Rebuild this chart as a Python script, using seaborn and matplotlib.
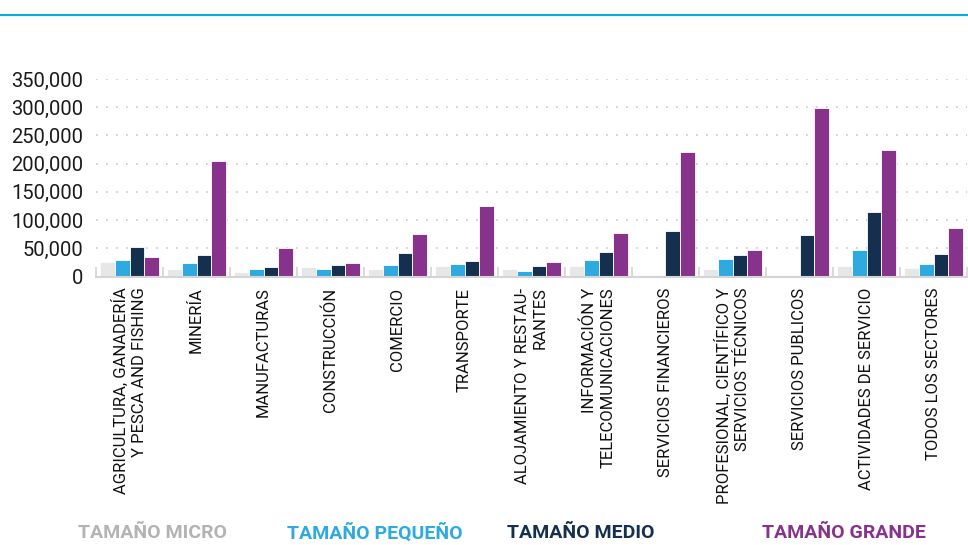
import numpy as np
import pandas as pd
import matplotlib
matplotlib.use("Agg")
import matplotlib.pyplot as plt
from matplotlib.lines import Line2D
from matplotlib.ticker import FixedLocator, FuncFormatter
import seaborn as sns

categories = [
    "AGRICULTURA, GANADERÍA\nY PESCA AND FISHING",
    "MINERÍA",
    "MANUFACTURAS",
    "CONSTRUCCIÓN",
    "COMERCIO",
    "TRANSPORTE",
    "ALOJAMIENTO Y RESTAU-\nRANTES",
    "INFORMACIÓN Y\nTELECOMUNICACIONES",
    "SERVICIOS FINANCIEROS",
    "PROFESIONAL, CIENTÍFICO Y\nSERVICIOS TÉCNICOS",
    "SERVICIOS PUBLICOS",
    "ACTIVIDADES DE SERVICIO",
    "TODOS LOS SECTORES",
]
series_names = ["TAMAÑO MICRO", "TAMAÑO PEQUEÑO", "TAMAÑO MEDIO", "TAMAÑO GRANDE"]
micro = [26300, 14000, 8100, 17000, 13400, 18200, 14000, 18200, 0, 13400, 0, 18200, 15700]
pequeno = [29300, 23500, 12900, 14000, 21000, 21700, 10400, 28800, 0, 31100, 0, 47500, 22300]
medio = [51800, 37600, 17000, 20500, 41100, 28100, 18700, 44000, 80000, 38200, 74000, 113600, 40000]
grande = [34600, 205500, 50000, 24000, 75800, 124200, 25800, 76500, 220700, 47000, 299200, 223700, 86400]
y_ticks = [0, 50000, 100000, 150000, 200000, 250000, 300000, 350000]
colors = ["#e6e7e8", "#2eaae1", "#15304f", "#87338b"]

rows = []
for name, vals in zip(series_names, [micro, pequeno, medio, grande]):
    for c, v in zip(categories, vals):
        rows.append({"sector": c, "size": name, "value": v})
df = pd.DataFrame(rows)

sns.set_theme(style="white")
fam = ["Roboto", "DejaVu Sans"]
plt.rcParams["font.family"] = fam

fig = plt.figure(figsize=(9.68, 5.45), dpi=100)
W, H = 968, 545
ax = fig.add_axes([96 / W, 1 - 276.5 / H, (967 - 96) / W, (276.5 - 79) / H])

sns.barplot(data=df, x="sector", y="value", hue="size", order=categories,
            hue_order=series_names, palette=colors, saturation=1, width=0.88,
            edgecolor="white", linewidth=0.6, errorbar=None, ax=ax, legend=False)

ax.set_xlim(-0.5, len(categories) - 0.5)
ax.set_ylim(0, 350000)
ax.yaxis.set_major_locator(FixedLocator(y_ticks))
ax.yaxis.set_major_formatter(FuncFormatter(lambda v, p: f"{int(v):,}"))
ax.grid(axis="y", color="#c8c8c8", linestyle=(0, (1, 5)), linewidth=1.2)
ax.set_axisbelow(True)
for s in ["left", "right", "top"]:
    ax.spines[s].set_visible(False)
ax.spines["bottom"].set_color("#d4d4d4")
ax.spines["bottom"].set_linewidth(1.5)
ax.set_xlabel("")
ax.set_ylabel("")

ax.tick_params(axis="y", length=0, pad=9, labelsize=14.5, labelcolor="#1a1a1a")

# group boundary ticks
ax.set_xticks(np.arange(len(categories)))
ax.set_xticks(np.arange(len(categories) + 1) - 0.5, minor=True)
ax.tick_params(axis="x", which="minor", direction="in", length=7, width=1.2, color="#d4d4d4", bottom=True)
ax.tick_params(axis="x", which="major", length=0, pad=8)
ax.set_xticklabels(categories, rotation=90, ha="center", va="top", fontsize=12,
                   color="#111111", linespacing=1.25, multialignment="right")

# top line
fig.add_artist(Line2D([0, 1], [1 - 15 / H, 1 - 15 / H], color="#12a9e0", linewidth=1.6,
                      transform=fig.transFigure))

# legend as colored text
legend_x = [78, 287, 507, 762]
legend_colors = ["#b1b3b5", "#2eaae1", "#15304f", "#87338b"]
for name, x, c in zip(series_names, legend_x, legend_colors):
    fig.text(x / W, 1 - 533 / H, name, color=c, fontsize=14, fontweight="bold",
             ha="left", va="center")

fig.savefig("out.png", dpi=100, facecolor="white")
